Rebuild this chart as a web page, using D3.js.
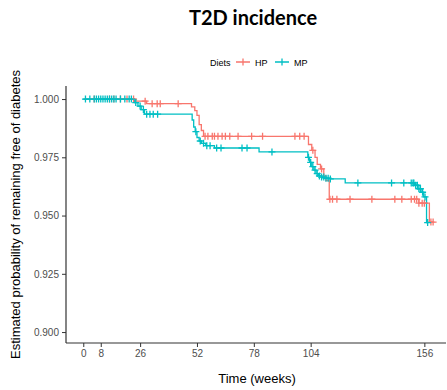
<!DOCTYPE html>
<html>
<head>
<meta charset="utf-8">
<script src="https://cdn.jsdelivr.net/npm/d3@7/dist/d3.min.js"></script>
<style>
  html, body { margin: 0; padding: 0; background: #fff; }
  svg { display: block; }
</style>
</head>
<body>
<svg id="chart" width="447" height="390"></svg>
<script>
// Kaplan–Meier estimates: step times (weeks) and survival after each step
const hpTime = [0, 24, 29, 49.5, 51, 52, 53, 54, 55, 103, 104.5, 106, 107, 108.5, 110, 111, 112.5, 153.5, 158.3];
const hpSurv = [1, 0.9991, 0.998, 0.9966, 0.995, 0.993, 0.989, 0.9865, 0.984, 0.9805, 0.978, 0.975, 0.972, 0.970, 0.967, 0.965, 0.957, 0.9553, 0.9472];
const hpCensor = [5, 12, 14, 17, 20, 23, 28.3, 31.5, 33.8, 35.2, 43.4, 55.7, 57, 59, 60, 61.6, 63.5, 65, 67, 70.8, 77, 82, 96.8, 99, 101,
  105, 109, 112.8, 114, 116, 122, 132, 142.5, 145.7, 150, 151.5, 152.5, 153.5, 155, 156, 159, 160];

const mpTime = [0, 23.5, 25, 26.5, 28, 49.8, 50.5, 51.2, 52, 53, 54, 56, 60, 80.4, 102.7, 103.5, 104.5, 105.5, 106.5, 107.5, 109, 110.5, 112.5, 119.8, 151.5, 153, 154.5, 155.7, 157];
const mpSurv = [1, 0.9985, 0.997, 0.9955, 0.9935, 0.991, 0.988, 0.986, 0.9835, 0.982, 0.981, 0.980, 0.979, 0.9773, 0.975, 0.9728, 0.971, 0.9695, 0.968, 0.967, 0.9665, 0.966, 0.9657, 0.964, 0.963, 0.9615, 0.960, 0.958, 0.947];
const mpCensor = [1, 3, 5, 6, 7, 8, 9, 10, 11, 12, 13, 14, 15, 17, 19, 21, 22, 24, 26, 27.5, 29, 30.5, 32, 34,
  51.5, 53.5, 55, 56.5, 58, 61, 63, 72.6, 74.9, 86.3, 103, 104, 105, 106, 107, 108, 109, 110, 111, 112, 113,
  125.6, 141, 146.6, 150, 150.8, 151.2, 152, 152.8, 153.5, 154.2, 155.2, 156.3, 157.5];

const groups = ["HP", "MP"];
const groupColors = ["#F8766D", "#00BFC4"];
const xTicks = [0, 8, 26, 52, 78, 104, 156];
const yTicks = [0.900, 0.925, 0.950, 0.975, 1.000];

const titleText = "T2D incidence";
const legendTitle = "Diets";
const xLabel = "Time (weeks)";
const yLabel = "Estimated probability of remaining free of diabetes";

const svg = d3.select("#chart");
const plot = { left: 66, right: 446, top: 86, bottom: 343 };

const x = d3.scaleLinear().domain([-7.9, 165.9]).range([plot.left, plot.right]);
const y = d3.scaleLinear().domain([0.8953, 1.0056]).range([plot.bottom, plot.top]);

// Title
svg.append("text")
  .attr("x", 253).attr("y", 25)
  .attr("text-anchor", "middle")
  .attr("font-family", "Lato, 'Open Sans', sans-serif")
  .attr("font-weight", "bold")
  .attr("font-size", 20)
  .attr("fill", "#000")
  .text(titleText);

// Legend
const legend = svg.append("g").attr("font-family", "Arial, 'Liberation Sans', sans-serif").attr("font-size", 9);
legend.append("text").attr("x", 210).attr("y", 65.5).attr("fill", "#000").text(legendTitle);
const legendX = [243, 282];
groups.forEach((g, i) => {
  const cx = legendX[i];
  legend.append("path")
    .attr("d", `M${cx - 7},62H${cx + 7}M${cx},58.5V65.5`)
    .attr("stroke", groupColors[i]).attr("stroke-width", 1.3).attr("fill", "none");
  legend.append("text").attr("x", cx + 12).attr("y", 65.5).attr("fill", "#000").text(g);
});

// Axes
const xAxis = d3.axisBottom(x).tickValues(xTicks).tickSize(4).tickPadding(3).tickFormat(d3.format("d"));
const yAxis = d3.axisLeft(y).tickValues(yTicks).tickSize(4).tickPadding(3).tickFormat(d3.format(".3f"));

const gx = svg.append("g").attr("transform", `translate(0,${plot.bottom})`).call(xAxis);
const gy = svg.append("g").attr("transform", `translate(${plot.left},0)`).call(yAxis);
[gx, gy].forEach(g => {
  g.select(".domain").attr("stroke", "#333").attr("stroke-width", 1.2);
  g.selectAll(".tick line").attr("stroke", "#333").attr("stroke-width", 1);
  g.selectAll(".tick text").attr("fill", "#4D4D4D")
    .attr("font-family", "Arial, 'Liberation Sans', sans-serif").attr("font-size", 10);
});
// axis lines span the panel only
gy.select(".domain").attr("d", `M0,${plot.top}V${plot.bottom}`);
gx.select(".domain").attr("d", `M${plot.left},0H${plot.right}`);

// Axis titles
svg.append("text")
  .attr("x", 257).attr("y", 383)
  .attr("text-anchor", "middle")
  .attr("font-family", "Arial, 'Liberation Sans', sans-serif")
  .attr("font-size", 13).attr("fill", "#000")
  .text(xLabel);
svg.append("text")
  .attr("transform", `translate(20,${(plot.top + plot.bottom) / 2}) rotate(-90)`)
  .attr("text-anchor", "middle")
  .attr("font-family", "Arial, 'Liberation Sans', sans-serif")
  .attr("font-size", 13).attr("fill", "#000")
  .text(yLabel);

// Survival step curves
function stepValue(times, surv, t) {
  const i = d3.bisectRight(times, t) - 1;
  return surv[Math.max(0, i)];
}
const series = [
  { times: hpTime, surv: hpSurv, censor: hpCensor },
  { times: mpTime, surv: mpSurv, censor: mpCensor }
];
const line = d3.line().x(d => x(d[0])).y(d => y(d[1])).curve(d3.curveStepAfter);

series.forEach((s, i) => {
  const pts = s.times.map((t, k) => [t, s.surv[k]]);
  const tEnd = Math.max(d3.max(s.censor), d3.max(s.times));
  pts.push([tEnd, s.surv[s.surv.length - 1]]);
  svg.append("path")
    .attr("d", line(pts))
    .attr("fill", "none")
    .attr("stroke", groupColors[i])
    .attr("stroke-width", 1.3);
});

// Censoring marks
series.forEach((s, i) => {
  svg.append("g").selectAll("path")
    .data(s.censor)
    .join("path")
    .attr("d", t => {
      const cx = x(t), cy = y(stepValue(s.times, s.surv, t));
      return `M${cx - 3.5},${cy}H${cx + 3.5}M${cx},${cy - 3.5}V${cy + 3.5}`;
    })
    .attr("stroke", groupColors[i])
    .attr("stroke-width", 1.3)
    .attr("fill", "none");
});
</script>
</body>
</html>
